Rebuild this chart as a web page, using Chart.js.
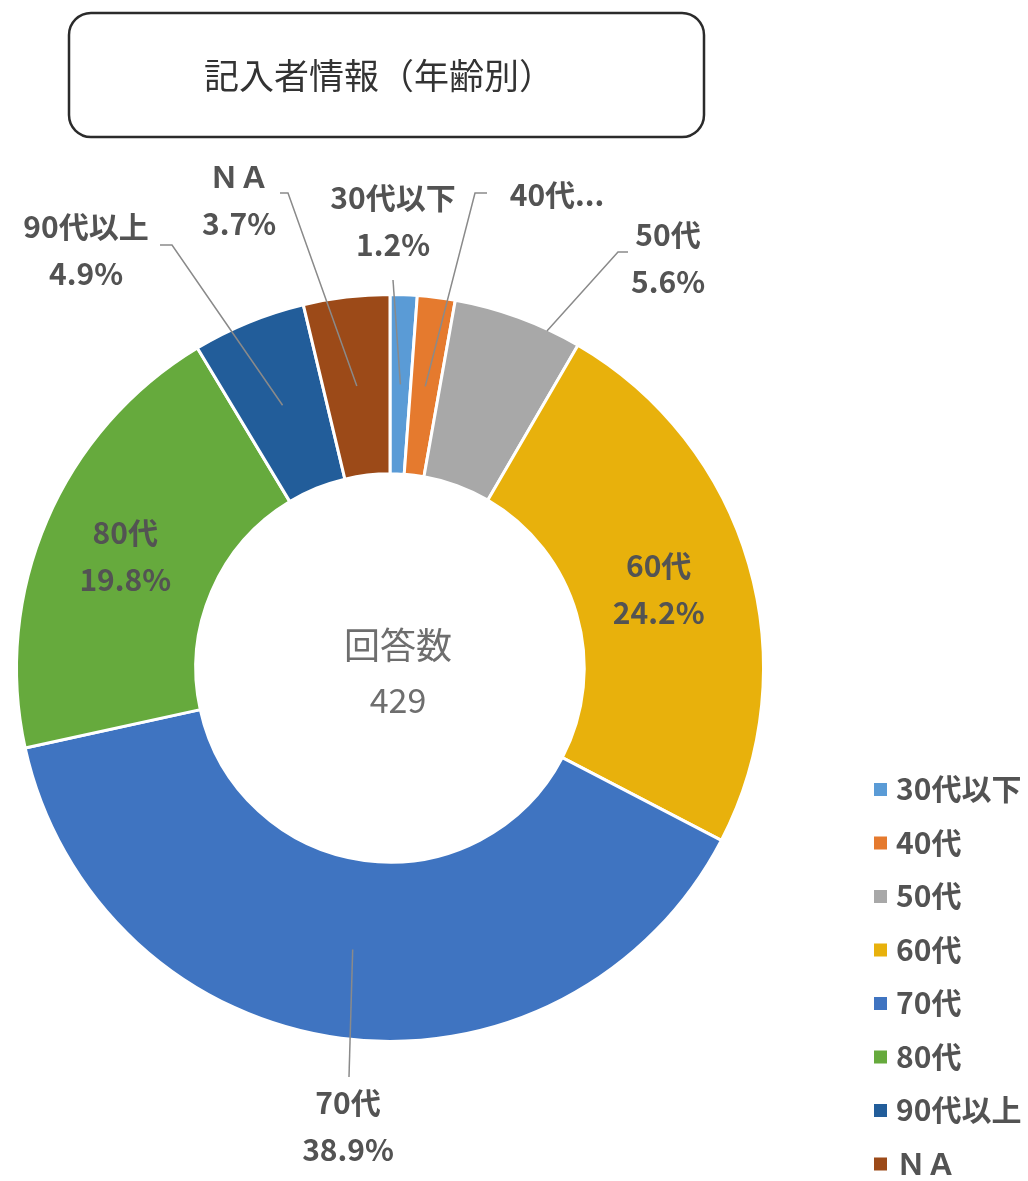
<!DOCTYPE html>
<html><head><meta charset="utf-8">
<script src="https://cdn.jsdelivr.net/npm/chart.js@4.4.1/dist/chart.umd.min.js"></script>
<style>html,body{margin:0;padding:0;background:#fff}canvas{display:block}</style>
</head><body>
<canvas id="c" width="1028" height="1181"></canvas>
<script>
// ---- data ----
const chartTitle = '記入者情報（年齢別）';
const categories = ['30代以下', '40代', '50代', '60代', '70代', '80代', '90代以上', 'ＮＡ'];
const dataLabelNames = ['30代以下', '40代...', '50代', '60代', '70代', '80代', '90代以上', 'ＮＡ'];
const counts = [5, 7, 24, 104, 167, 85, 21, 16];
const centerCaption = '回答数';
const sliceColors = ['#5A9BD6', '#E57A2E', '#A8A8A8', '#E8B10C', '#3F74C1', '#66AA3D', '#225D9A', '#9C4A18'];

const total = counts.reduce((a, b) => a + b, 0);
const pctText = counts.map(v => (v / total * 100).toFixed(1) + '%');

// ---- layout for outside labels (text centres and leader-line start points) ----
const labelLayout = [
  { x: 393, y: 198, showPct: true, pts: [[393, 280]], t: 0.5, r: 0.5 },
  { x: 557, y: 195, showPct: false, pts: [[487, 193], [475, 193]], t: 0.5, r: 0.5 },
  { x: 668, y: 235, showPct: true, pts: [[628, 252], [618, 252]], t: 0.74, r: 0.99 },
  { inside: true },
  { x: 348, y: 1103, showPct: true, pts: [[349, 1077]], t: 0.5, r: 0.5 },
  { inside: true },
  { x: 86, y: 227, showPct: true, pts: [[160, 245], [172, 245]], t: 0.5, r: 0.5 },
  { x: 239, y: 177, showPct: true, pts: [[280, 193], [288, 193]], t: 0.5, r: 0.5 }
];

const LABEL_FONT = 'bold 30px "Noto Sans CJK JP", "Open Sans", sans-serif';
const TEXT_COLOR = '#535353';
const LINE_GAP = 47;

function roundRect(ctx, x, y, w, h, r) {
  ctx.beginPath();
  ctx.moveTo(x + r, y);
  ctx.lineTo(x + w - r, y);
  ctx.arcTo(x + w, y, x + w, y + r, r);
  ctx.lineTo(x + w, y + h - r);
  ctx.arcTo(x + w, y + h, x + w - r, y + h, r);
  ctx.lineTo(x + r, y + h);
  ctx.arcTo(x, y + h, x, y + h - r, r);
  ctx.lineTo(x, y + r);
  ctx.arcTo(x, y, x + r, y, r);
  ctx.closePath();
}

const decorPlugin = {
  id: 'decor',
  afterDraw(chart) {
    const ctx = chart.ctx;
    const meta = chart.getDatasetMeta(0);
    ctx.save();

    // Title box
    ctx.lineWidth = 2.5;
    ctx.strokeStyle = '#2b2b2b';
    roundRect(ctx, 69, 13, 635, 124, 22);
    ctx.stroke();
    ctx.fillStyle = '#333333';
    ctx.font = '35px "Noto Sans CJK JP", sans-serif';
    ctx.textAlign = 'center';
    ctx.textBaseline = 'middle';
    ctx.fillText(chartTitle, 379, 76);

    // Center text
    const a0 = meta.data[0];
    ctx.fillStyle = '#6e6e6e';
    ctx.font = '36px "Noto Sans CJK JP", sans-serif';
    ctx.fillText(centerCaption, a0.x + 8, a0.y - 23);
    ctx.font = '34px "Noto Sans CJK JP", sans-serif';
    ctx.fillText(String(total), a0.x + 8, a0.y + 32);

    // Data labels
    ctx.font = LABEL_FONT;
    meta.data.forEach((arc, i) => {
      const L = labelLayout[i];
      const p = arc.getProps(['x', 'y', 'startAngle', 'endAngle', 'innerRadius', 'outerRadius'], true);
      if (L.inside) {
        const c = arc.getCenterPoint(true);
        ctx.fillStyle = TEXT_COLOR;
        ctx.fillText(dataLabelNames[i], c.x - 4, c.y - 23);
        ctx.fillText(pctText[i], c.x - 4, c.y + 24);
        return;
      }
      const ang = p.startAngle + L.t * (p.endAngle - p.startAngle);
      const rad = p.innerRadius + L.r * (p.outerRadius - p.innerRadius);
      const ax = p.x + Math.cos(ang) * rad;
      const ay = p.y + Math.sin(ang) * rad;
      ctx.strokeStyle = '#8a8a8a';
      ctx.lineWidth = 1.5;
      ctx.beginPath();
      ctx.moveTo(L.pts[0][0], L.pts[0][1]);
      for (let k = 1; k < L.pts.length; k++) ctx.lineTo(L.pts[k][0], L.pts[k][1]);
      ctx.lineTo(ax, ay);
      ctx.stroke();
      ctx.fillStyle = TEXT_COLOR;
      ctx.fillText(dataLabelNames[i], L.x, L.y);
      if (L.showPct) ctx.fillText(pctText[i], L.x, L.y + LINE_GAP);
    });

    // Legend
    ctx.textAlign = 'left';
    ctx.font = LABEL_FONT;
    categories.forEach((name, i) => {
      const cy = 789 + i * 53.5;
      ctx.fillStyle = sliceColors[i];
      ctx.fillRect(874, cy - 6, 13, 13);
      ctx.fillStyle = TEXT_COLOR;
      ctx.fillText(name, 896, cy);
    });

    ctx.restore();
  }
};

new Chart(document.getElementById('c'), {
  type: 'doughnut',
  data: {
    labels: categories,
    datasets: [{
      data: counts,
      backgroundColor: sliceColors,
      borderColor: '#ffffff',
      borderWidth: 3
    }]
  },
  options: {
    responsive: false,
    devicePixelRatio: 1,
    animation: false,
    cutout: '52%',
    layout: { padding: { left: 15, right: 263, top: 293, bottom: 138 } },
    plugins: { legend: { display: false }, tooltip: { enabled: false } }
  },
  plugins: [decorPlugin]
});
</script>
</body></html>
